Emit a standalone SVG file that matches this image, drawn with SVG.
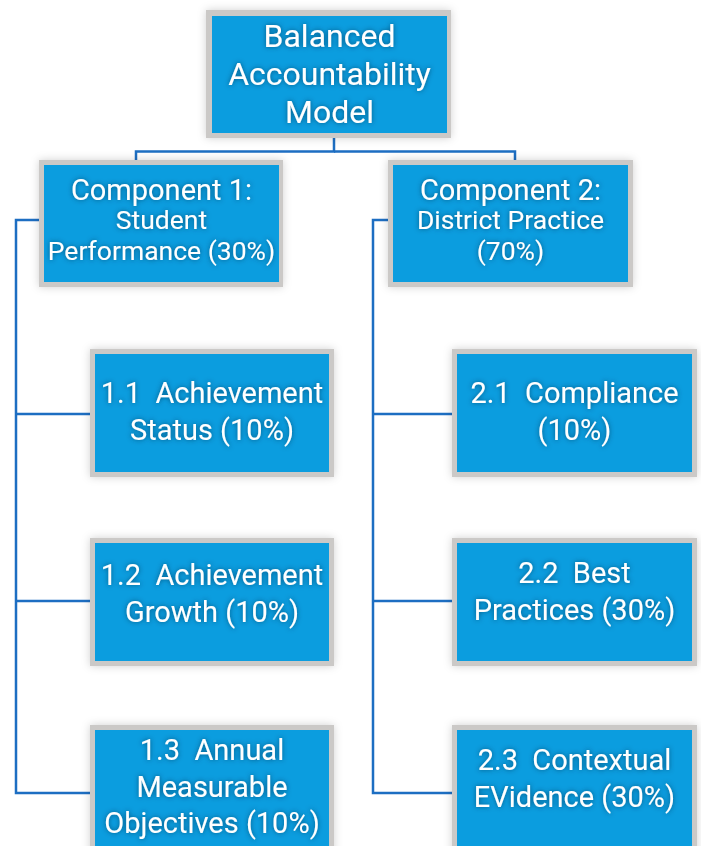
<svg xmlns="http://www.w3.org/2000/svg" width="701" height="846" viewBox="0 0 701 846">
<defs>
<filter id="boxShadow" x="-10%" y="-10%" width="120%" height="120%">
<feDropShadow dx="0" dy="0" stdDeviation="4" flood-color="#000" flood-opacity="0.18"/>
</filter>
<filter id="txtShadow" x="-10%" y="-30%" width="120%" height="160%">
<feGaussianBlur in="SourceAlpha" stdDeviation="2.5" result="b"/>
<feFlood flood-color="#063a5c" flood-opacity="0.75"/>
<feComposite in2="b" operator="in" result="s"/>
<feMerge><feMergeNode in="s"/><feMergeNode in="SourceGraphic"/></feMerge>
</filter>
</defs>
<style>
.frame{fill:#cbc9c7;filter:url(#boxShadow)}
.fill{fill:#0b9ddf}
.t{font-family:Roboto,"Liberation Sans",sans-serif;fill:#fff;text-anchor:middle;white-space:pre;filter:url(#txtShadow)}
.conn{fill:none;stroke:#1d6ec2;stroke-width:2.5}
</style>
<rect width="701" height="846" fill="#fff"/>
<g id="connectors" class="conn">
<path d="M334 138V151.5H136V160"/>
<path d="M334 151.5H515V160"/>
<path d="M39 220H16V793H90"/>
<path d="M16 414H90"/>
<path d="M16 601H90"/>
<path d="M388 220H373V793H452"/>
<path d="M373 414H452"/>
<path d="M373 601H452"/>
</g>
<g id="root">
<rect class="frame" x="206" y="10" width="245" height="128"/>
<rect class="fill" x="212" y="16" width="235" height="117"/>
<text class="t" font-size="32" x="329.5" y="47">Balanced</text>
<text class="t" font-size="32" x="329.5" y="85">Accountability</text>
<text class="t" font-size="32" x="329.5" y="123">Model</text>
</g>
<g id="comp1">
<rect class="frame" x="39" y="160" width="244" height="127"/>
<rect class="fill" x="44" y="165" width="235" height="117"/>
<text class="t" font-size="29" x="161.5" y="200">Component 1:</text>
<text class="t" font-size="26.5" x="161.5" y="229">Student</text>
<text class="t" font-size="26.5" x="161.5" y="260">Performance (30%)</text>
</g>
<g id="comp2">
<rect class="frame" x="388" y="160" width="245" height="127"/>
<rect class="fill" x="393" y="165" width="235" height="117"/>
<text class="t" font-size="29" x="510.5" y="200">Component 2:</text>
<text class="t" font-size="26.5" x="510.5" y="229">District Practice</text>
<text class="t" font-size="26.5" x="510.5" y="260">(70%)</text>
</g>
<g id="n11">
<rect class="frame" x="90" y="349" width="244" height="128"/>
<rect class="fill" x="95" y="354" width="234" height="118"/>
<text class="t" font-size="29" x="212" y="403">1.1  Achievement</text>
<text class="t" font-size="29" x="212" y="440">Status (10%)</text>
</g>
<g id="n12">
<rect class="frame" x="90" y="538" width="244" height="128"/>
<rect class="fill" x="95" y="543" width="234" height="118"/>
<text class="t" font-size="29" x="212" y="585">1.2  Achievement</text>
<text class="t" font-size="29" x="212" y="622">Growth (10%)</text>
</g>
<g id="n13">
<rect class="frame" x="90" y="725" width="244" height="140"/>
<rect class="fill" x="95" y="730" width="234" height="130"/>
<text class="t" font-size="29" x="212" y="760">1.3  Annual</text>
<text class="t" font-size="29" x="212" y="797">Measurable</text>
<text class="t" font-size="29" x="212" y="833">Objectives (10%)</text>
</g>
<g id="n21">
<rect class="frame" x="452" y="349" width="245" height="128"/>
<rect class="fill" x="457" y="354" width="235" height="118"/>
<text class="t" font-size="29" x="574.5" y="403">2.1  Compliance</text>
<text class="t" font-size="29" x="574.5" y="440">(10%)</text>
</g>
<g id="n22">
<rect class="frame" x="452" y="538" width="245" height="128"/>
<rect class="fill" x="457" y="543" width="235" height="118"/>
<text class="t" font-size="29" x="574.5" y="583">2.2  Best</text>
<text class="t" font-size="29" x="574.5" y="620">Practices (30%)</text>
</g>
<g id="n23">
<rect class="frame" x="452" y="725" width="245" height="140"/>
<rect class="fill" x="457" y="730" width="235" height="130"/>
<text class="t" font-size="29" x="574.5" y="770">2.3  Contextual</text>
<text class="t" font-size="29" x="574.5" y="807">EVidence (30%)</text>
</g>
</svg>
